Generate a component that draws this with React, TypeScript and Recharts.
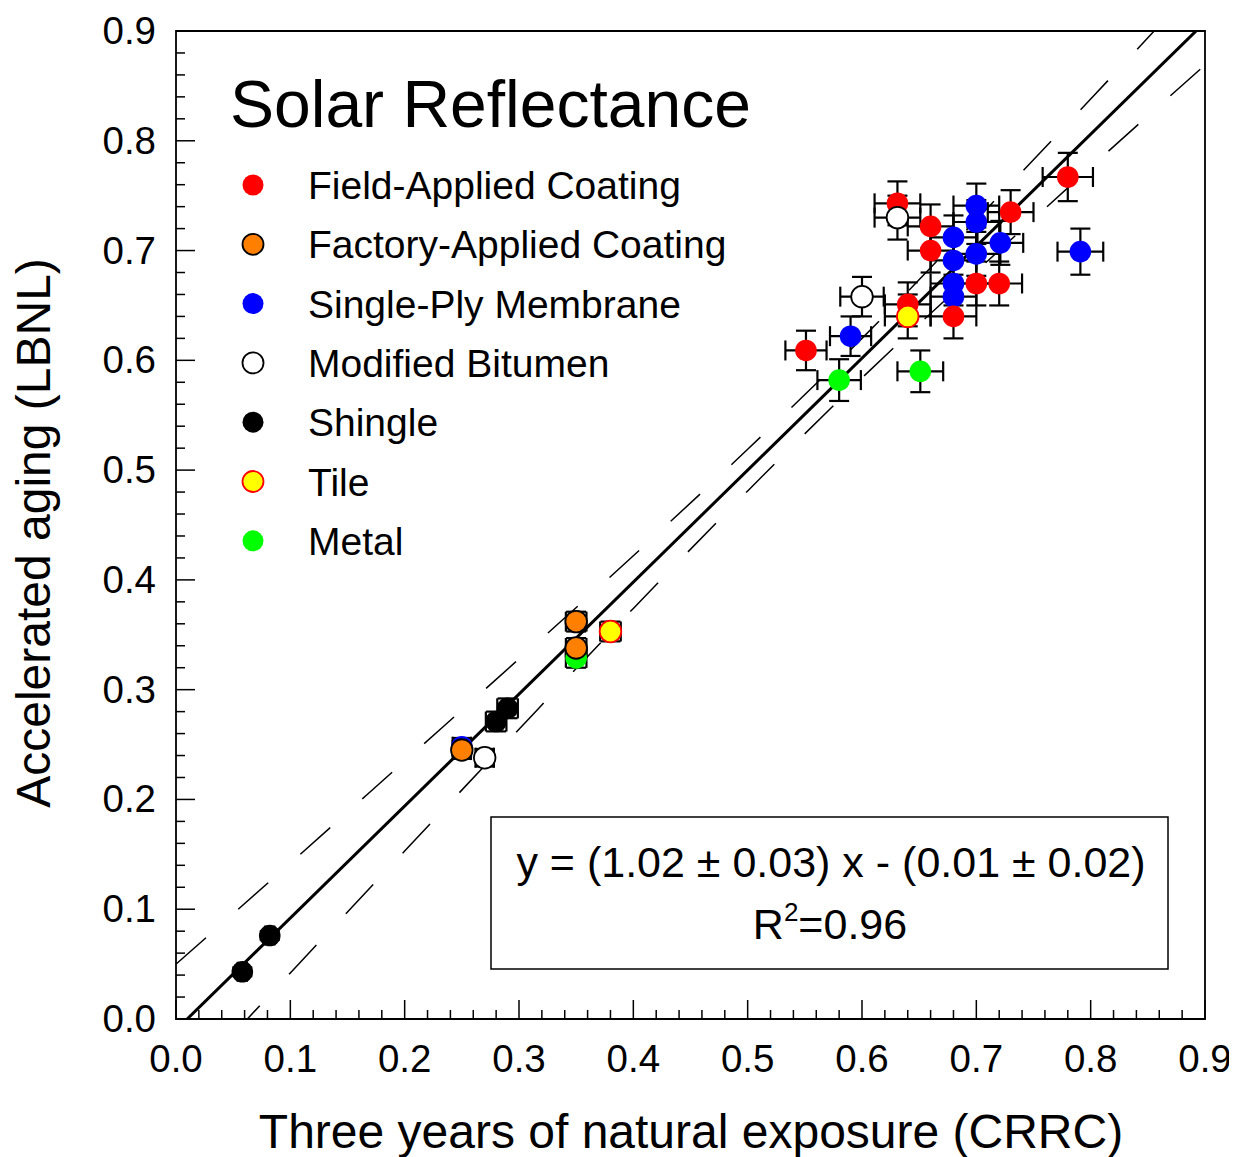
import React from "react";
import {
  ScatterChart,
  Scatter,
  XAxis,
  YAxis,
  ErrorBar,
  ReferenceArea,
  Legend,
  Customized,
} from "recharts";

// ---------- data ----------
type Pt = { x: number; y: number; ex: number; ey: number };

const fieldApplied: Pt[] = [
  { x: 0.78, y: 0.767, ex: 0.022, ey: 0.022 },
  { x: 0.631, y: 0.743, ex: 0.02, ey: 0.02 },
  { x: 0.66, y: 0.722, ex: 0.02, ey: 0.02 },
  { x: 0.73, y: 0.735, ex: 0.02, ey: 0.02 },
  { x: 0.66, y: 0.7, ex: 0.02, ey: 0.02 },
  { x: 0.7, y: 0.67, ex: 0.02, ey: 0.02 },
  { x: 0.72, y: 0.67, ex: 0.02, ey: 0.02 },
  { x: 0.64, y: 0.651, ex: 0.02, ey: 0.02 },
  { x: 0.68, y: 0.64, ex: 0.02, ey: 0.02 },
  { x: 0.551, y: 0.609, ex: 0.018, ey: 0.018 },
];
const factoryApplied: Pt[] = [
  { x: 0.35, y: 0.362, ex: 0.009, ey: 0.009 },
  { x: 0.35, y: 0.338, ex: 0.009, ey: 0.009 },
  { x: 0.25, y: 0.245, ex: 0.008, ey: 0.008 },
];
const singlePly: Pt[] = [
  { x: 0.7, y: 0.741, ex: 0.02, ey: 0.02 },
  { x: 0.7, y: 0.726, ex: 0.02, ey: 0.02 },
  { x: 0.68, y: 0.712, ex: 0.02, ey: 0.02 },
  { x: 0.721, y: 0.707, ex: 0.02, ey: 0.02 },
  { x: 0.7, y: 0.697, ex: 0.02, ey: 0.02 },
  { x: 0.68, y: 0.691, ex: 0.02, ey: 0.02 },
  { x: 0.791, y: 0.699, ex: 0.02, ey: 0.021 },
  { x: 0.68, y: 0.67, ex: 0.02, ey: 0.02 },
  { x: 0.68, y: 0.658, ex: 0.02, ey: 0.02 },
  { x: 0.59, y: 0.622, ex: 0.018, ey: 0.018 },
  { x: 0.25, y: 0.248, ex: 0.008, ey: 0.008 },
];
const modifiedBitumen: Pt[] = [
  { x: 0.631, y: 0.73, ex: 0.02, ey: 0.02 },
  { x: 0.6, y: 0.658, ex: 0.019, ey: 0.018 },
  { x: 0.27, y: 0.238, ex: 0.008, ey: 0.008 },
];
const shingle: Pt[] = [
  { x: 0.29, y: 0.283, ex: 0.009, ey: 0.009 },
  { x: 0.28, y: 0.271, ex: 0.009, ey: 0.009 },
  { x: 0.082, y: 0.076, ex: 0.004, ey: 0.004 },
  { x: 0.058, y: 0.043, ex: 0.004, ey: 0.004 },
];
const tile: Pt[] = [
  { x: 0.64, y: 0.64, ex: 0.02, ey: 0.02 },
  { x: 0.38, y: 0.353, ex: 0.009, ey: 0.009 },
];
const metal: Pt[] = [
  { x: 0.58, y: 0.582, ex: 0.019, ey: 0.019 },
  { x: 0.651, y: 0.59, ex: 0.02, ey: 0.019 },
  { x: 0.35, y: 0.329, ex: 0.009, ey: 0.009 },
];

// regression line y = 1.02x - 0.01 (end points)
const fitLine = [
  { x: 0.0, y: -0.01 },
  { x: 0.9, y: 0.908 },
];
// dashed band
const bandX = [0, 0.1, 0.2, 0.3, 0.4, 0.5, 0.6, 0.7, 0.8, 0.9];
const bandUpper = [0.05, 0.142, 0.235, 0.328, 0.422, 0.519, 0.62, 0.728, 0.838, 0.95];
const bandLower = [-0.07, 0.042, 0.153, 0.264, 0.374, 0.481, 0.584, 0.681, 0.776, 0.869];

const majorTicks = [0, 0.1, 0.2, 0.3, 0.4, 0.5, 0.6, 0.7, 0.8, 0.9];
const tickLabels = ["0.0", "0.1", "0.2", "0.3", "0.4", "0.5", "0.6", "0.7", "0.8", "0.9"];
const allTicks = Array.from({ length: 46 }, (_, i) => +(i * 0.02).toFixed(2));

const title = "Solar Reflectance";
const xTitle = "Three years of natural exposure (CRRC)";
const yTitle = "Accelerated aging (LBNL)";
const eqLine1 = "y = (1.02 ± 0.03) x - (0.01 ± 0.02)";
const eqR2 = "=0.96";

type Series = { name: string; data: Pt[]; fill: string; stroke: string };
const legendSeries: Series[] = [
  { name: "Field-Applied Coating", data: fieldApplied, fill: "#ff0000", stroke: "none" },
  { name: "Factory-Applied Coating", data: factoryApplied, fill: "#ff8000", stroke: "#000000" },
  { name: "Single-Ply Membrane", data: singlePly, fill: "#0000ff", stroke: "none" },
  { name: "Modified Bitumen", data: modifiedBitumen, fill: "#ffffff", stroke: "#000000" },
  { name: "Shingle", data: shingle, fill: "#000000", stroke: "none" },
  { name: "Tile", data: tile, fill: "#ffff00", stroke: "#ff0000" },
  { name: "Metal", data: metal, fill: "#00ff00", stroke: "none" },
];
// drawing order (z-order)
const drawOrder = ["Single-Ply Membrane", "Metal", "Field-Applied Coating", "Modified Bitumen", "Factory-Applied Coating", "Tile", "Shingle"];

// ---------- layout ----------
const FONT = "'Liberation Sans', Arial, sans-serif";
const W = 1229;
const H = 1149;
const YW = 100;
const XH = 80;
const M = { top: 23, right: 32, left: 168 - YW, bottom: 138 - XH };

const isMajor = (v: number) => Math.abs(v * 10 - Math.round(v * 10)) < 1e-6;
const labelOf = (v: number) => tickLabels[majorTicks.findIndex((t) => Math.abs(t - v) < 1e-6)] ?? "";

const XTick = (props: any) => {
  const { x, y, payload } = props;
  const v = payload.value as number;
  const major = isMajor(v);
  return (
    <g>
      <line x1={x} y1={y} x2={x} y2={y - (major ? 19 : 9)} stroke="#000" strokeWidth={1.5} />
      {major && (
        <text x={x} y={y + 53} textAnchor="middle" fontSize={38.5} fontFamily={FONT} fill="#000">
          {labelOf(v)}
        </text>
      )}
    </g>
  );
};

const YTick = (props: any) => {
  const { x, y, payload } = props;
  const v = payload.value as number;
  const major = isMajor(v);
  return (
    <g>
      <line x1={x} y1={y} x2={x + (major ? 19 : 9)} y2={y} stroke="#000" strokeWidth={1.5} />
      {major && (
        <text x={x - 20} y={y + 13} textAnchor="end" fontSize={38.5} fontFamily={FONT} fill="#000">
          {labelOf(v)}
        </text>
      )}
    </g>
  );
};

const Marker = (fill: string, stroke: string) => (props: any) => {
  const { cx, cy } = props;
  if (cx == null || cy == null) return <g />;
  return <circle cx={cx} cy={cy} r={10.8} fill={fill} stroke={stroke} strokeWidth={stroke === "none" ? 0 : 1.8} />;
};

const LegendContent = () => (
  <svg width={800} height={600} style={{ overflow: "visible" }}>
    <text x={222} y={119} fontSize={66} fontFamily={FONT} fill="#000">
      {title}
    </text>
    {legendSeries.map((s, i) => {
      const cy = 177 + 59.3 * i;
      return (
        <g key={s.name}>
          <circle cx={245} cy={cy} r={10.5} fill={s.fill} stroke={s.stroke} strokeWidth={s.stroke === "none" ? 0 : 1.8} />
          <text x={300} y={cy + 14} fontSize={39} fontFamily={FONT} fill="#000">
            {s.name}
          </text>
        </g>
      );
    })}
  </svg>
);

const Annotations = () => (
  <g fontFamily={FONT} fill="#000">
    <rect x={483} y={809} width={677} height={152} fill="#fff" stroke="#000" strokeWidth={1.5} />
    <text x={823} y={869} textAnchor="middle" fontSize={43}>
      {eqLine1}
    </text>
    <text x={822} y={931} textAnchor="middle" fontSize={43}>
      R<tspan dy={-18} fontSize={26}>2</tspan>
      <tspan dy={18}>{eqR2}</tspan>
    </text>
    <text x={683} y={1140} textAnchor="middle" fontSize={48}>
      {xTitle}
    </text>
    <text x={42} y={525} textAnchor="middle" fontSize={48} transform="rotate(-90, 42, 525)">
      {yTitle}
    </text>
  </g>
);

export default function App() {
  const bandUp = bandX.map((x, i) => ({ x, y: bandUpper[i] }));
  const bandLo = bandX.map((x, i) => ({ x, y: bandLower[i] }));
  const ordered = drawOrder.map((n) => legendSeries.find((s) => s.name === n)!);
  return (
    <div style={{ width: W, height: H, background: "#fff" }}>
      <ScatterChart width={W} height={H} margin={M}>
        <XAxis
          type="number"
          dataKey="x"
          domain={[0, 0.9]}
          allowDataOverflow
          ticks={allTicks}
          interval={0}
          tick={(p: any) => <XTick {...p} />}
          tickLine={false}
          tickSize={0}
          tickMargin={0}
          axisLine={false}
          height={XH}
        />
        <YAxis
          type="number"
          dataKey="y"
          domain={[0, 0.9]}
          allowDataOverflow
          ticks={allTicks}
          interval={0}
          tick={(p: any) => <YTick {...p} />}
          tickLine={false}
          tickSize={0}
          tickMargin={0}
          axisLine={false}
          width={YW}
        />
        <ReferenceArea x1={0} x2={0.9} y1={0} y2={0.9} fill="none" stroke="#000" strokeWidth={1.8} />
        <Scatter
          name="upper"
          data={bandUp}
          line={{ stroke: "#000", strokeWidth: 1.5, strokeDasharray: "40 43" }}
          lineJointType="monotoneX"
          shape={() => <g />}
          isAnimationActive={false}
          legendType="none"
        />
        <Scatter
          name="lower"
          data={bandLo}
          line={{ stroke: "#000", strokeWidth: 1.5, strokeDasharray: "40 43" }}
          lineJointType="monotoneX"
          shape={() => <g />}
          isAnimationActive={false}
          legendType="none"
        />
        <Scatter
          name="fit"
          data={fitLine}
          line={{ stroke: "#000", strokeWidth: 3 }}
          strokeWidth={3}
          shape={() => <g />}
          isAnimationActive={false}
          legendType="none"
        />
        {ordered.map((s) => (
          <Scatter
            key={s.name}
            name={s.name}
            data={s.data}
            fill={s.fill}
            shape={Marker(s.fill, s.stroke)}
            isAnimationActive={false}
          >
            <ErrorBar dataKey="ex" direction="x" width={10} stroke="#000" strokeWidth={2.2} />
            <ErrorBar dataKey="ey" direction="y" width={10} stroke="#000" strokeWidth={2.2} />
          </Scatter>
        ))}
        <Customized component={Annotations} />
        <Legend
          layout="vertical"
          align="center"
          verticalAlign="middle"
          content={<LegendContent />}
          wrapperStyle={{ position: "absolute", left: 0, top: 0, width: 800, height: 600, pointerEvents: "none" }}
        />
      </ScatterChart>
    </div>
  );
}
